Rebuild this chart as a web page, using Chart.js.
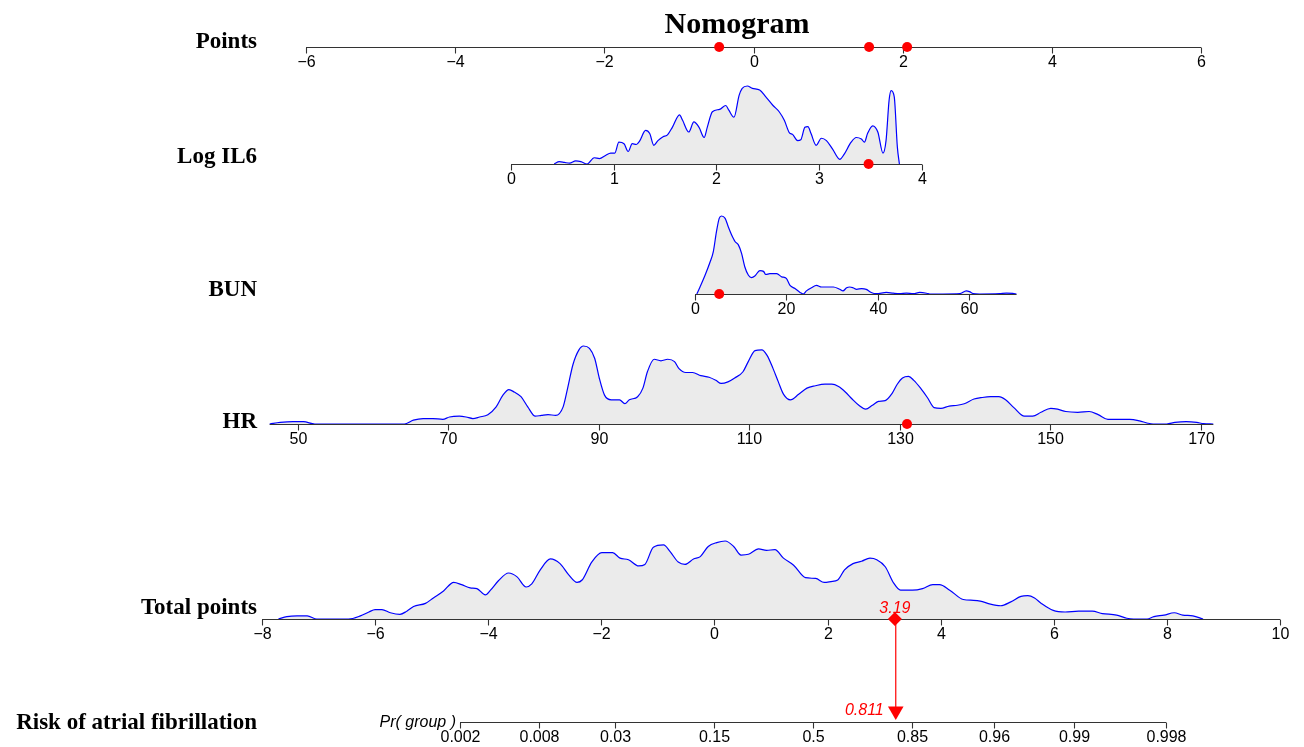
<!DOCTYPE html>
<html>
<head>
<meta charset="utf-8">
<script src="https://cdn.jsdelivr.net/npm/chart.js@4.4.1/dist/chart.umd.min.js"></script>
<style>
  body { margin: 0; background: #fff; }
  #wrap { position: relative; width: 1304px; height: 747px; }
</style>
</head>
<body>
<div id="wrap"><canvas id="nomo"></canvas></div>
<script>
// ---- data ----
const ptsTicks = [-6, -4, -2, 0, 2, 4, 6];
const il6Ticks = [0, 1, 2, 3, 4];
const bunTicks = [0, 20, 40, 60];
const hrTicks = [50, 70, 90, 110, 130, 150, 170];
const totTicks = [-8, -6, -4, -2, 0, 2, 4, 6, 8, 10];
const riskTicks = [0.002, 0.008, 0.03, 0.15, 0.5, 0.85, 0.96, 0.99, 0.998];

// density curves (x value, relative density)
const il6X = [0.42,0.47,0.52,0.57,0.63,0.68,0.74,0.81,0.86,0.92,0.97,1.01,1.05,1.10,1.14,1.18,1.22,1.25,1.31,1.35,1.39,1.43,1.48,1.52,1.57,1.64,1.67,1.73,1.78,1.83,1.88,1.91,1.96,2.03,2.09,2.12,2.17,2.22,2.25,2.30,2.35,2.42,2.48,2.55,2.61,2.66,2.71,2.74,2.79,2.82,2.86,2.89,2.92,2.97,3.02,3.07,3.13,3.20,3.24,3.31,3.36,3.41,3.44,3.47,3.52,3.57,3.62,3.65,3.68,3.70,3.73,3.76,3.78];
const il6D = [0,0.03,0.02,0.01,0.04,0.03,0,0.08,0.07,0.11,0.14,0.14,0.28,0.26,0.16,0.26,0.25,0.29,0.43,0.39,0.24,0.30,0.35,0.37,0.47,0.63,0.56,0.41,0.54,0.47,0.34,0.47,0.67,0.70,0.75,0.69,0.60,0.88,0.97,1.00,0.97,0.95,0.86,0.75,0.67,0.56,0.40,0.38,0.30,0.31,0.47,0.48,0.39,0.24,0.33,0.30,0.19,0.06,0.12,0.28,0.34,0.32,0.28,0.39,0.49,0.41,0.14,0.30,0.82,0.94,0.86,0.22,0];

const bunX = [0.4,1.1,2.2,3.3,4.0,4.7,5.3,5.8,6.6,7.3,8.0,8.8,9.5,10.2,10.9,11.7,12.4,13.1,14.2,15.0,15.5,16.4,17.1,17.9,19.0,20.0,20.8,21.9,23.0,23.7,24.4,25.5,26.6,27.7,28.8,30.3,31.7,32.4,33.2,33.9,34.6,35.4,36.5,37.5,38.6,39.7,41.9,43.4,44.8,46.3,47.8,49.2,50.7,51.4,54.3,58.0,59.4,60.1,60.9,62.3,66.7,68.2,69.6,70.4];
const bunD = [0,0.09,0.24,0.41,0.54,0.80,0.97,1.00,0.97,0.86,0.76,0.67,0.63,0.52,0.35,0.24,0.21,0.23,0.30,0.29,0.25,0.26,0.26,0.26,0.22,0.20,0.11,0.07,0.02,0,0.04,0.08,0.11,0.09,0.09,0.09,0.06,0.04,0.08,0.09,0.08,0.06,0.07,0.06,0.02,0.004,0.02,0.01,0.004,0.01,0.004,0.02,0.01,0,0,0.004,0.04,0.03,0.004,0,0.004,0.01,0.009,0];

const hrX = [46.3,47.7,49.4,50.8,52.3,64.2,65.4,66.7,68.0,69.3,70.2,71.5,72.4,73.3,74.2,75.3,76.4,77.3,78.1,78.8,79.7,80.6,81.6,82.4,83.3,84.3,85.3,85.9,86.6,87.4,88.0,88.8,89.5,90.1,90.8,91.7,92.8,93.5,94.1,95.2,95.9,96.5,97.4,98.3,99.2,100.1,100.7,101.6,102.5,103.6,104.7,105.6,106.3,107.2,108.1,109.2,109.9,110.8,111.7,112.4,113.2,113.9,114.6,115.5,116.6,117.7,118.8,120.1,121.0,121.9,122.8,123.7,124.6,125.5,126.4,127.2,128.1,129.0,129.7,130.4,131.2,131.9,132.8,133.7,134.6,135.5,136.6,137.7,138.6,139.9,141.0,142.1,143.2,144.1,145.2,146.6,147.7,148.8,150.1,151.0,152.1,153.7,155.2,156.4,157.7,158.8,160.6,161.9,163.0,163.7,165.5,166.6,168.1,169.5,170.4,171.7];
const hrD = [0,0.02,0.03,0.03,0,0,0.05,0.07,0.07,0.06,0.09,0.10,0.09,0.07,0.09,0.12,0.22,0.37,0.44,0.41,0.35,0.22,0.10,0.11,0.12,0.11,0.22,0.46,0.76,0.95,1.00,0.97,0.84,0.59,0.37,0.31,0.31,0.26,0.31,0.35,0.46,0.67,0.83,0.81,0.83,0.80,0.71,0.66,0.66,0.62,0.60,0.56,0.52,0.54,0.59,0.67,0.80,0.94,0.95,0.88,0.71,0.54,0.38,0.31,0.38,0.46,0.49,0.51,0.51,0.48,0.41,0.32,0.24,0.19,0.24,0.29,0.30,0.39,0.51,0.59,0.61,0.56,0.46,0.34,0.21,0.20,0.23,0.24,0.26,0.32,0.34,0.35,0.35,0.31,0.21,0.10,0.10,0.15,0.20,0.19,0.16,0.15,0.16,0.12,0.06,0.06,0.06,0.04,0.01,0,0,0.02,0.03,0.02,0.004,0];

const totX = [-7.71,-7.56,-7.38,-7.20,-7.03,-6.47,-6.26,-6.11,-6.00,-5.88,-5.73,-5.56,-5.44,-5.32,-5.11,-4.97,-4.79,-4.61,-4.47,-4.32,-4.20,-4.05,-3.96,-3.82,-3.64,-3.49,-3.33,-3.23,-3.08,-2.90,-2.73,-2.58,-2.43,-2.34,-2.17,-1.99,-1.80,-1.67,-1.52,-1.34,-1.23,-1.08,-0.90,-0.78,-0.64,-0.52,-0.37,-0.25,-0.11,0.04,0.19,0.34,0.47,0.60,0.78,0.92,1.07,1.22,1.40,1.61,1.79,1.94,2.06,2.18,2.30,2.45,2.60,2.75,2.87,3.02,3.17,3.29,3.50,3.68,3.86,3.98,4.16,4.40,4.58,4.70,4.88,5.06,5.24,5.42,5.54,5.66,5.78,5.99,6.20,6.44,6.68,6.86,7.11,7.29,7.41,7.65,7.77,7.95,8.13,8.28,8.46,8.64];
const totD = [0,0.03,0.04,0.04,0,0,0.04,0.09,0.12,0.12,0.08,0.06,0.10,0.16,0.20,0.27,0.36,0.47,0.44,0.40,0.39,0.31,0.37,0.49,0.59,0.54,0.41,0.45,0.63,0.77,0.71,0.57,0.47,0.50,0.73,0.85,0.85,0.78,0.76,0.68,0.70,0.92,0.95,0.86,0.73,0.70,0.77,0.80,0.93,0.98,1.00,0.93,0.82,0.83,0.90,0.88,0.89,0.78,0.69,0.53,0.52,0.47,0.48,0.50,0.63,0.71,0.74,0.78,0.76,0.67,0.46,0.37,0.37,0.39,0.44,0.44,0.37,0.25,0.24,0.23,0.19,0.17,0.22,0.29,0.30,0.27,0.20,0.11,0.09,0.10,0.10,0.07,0.05,0.01,0,0,0.03,0.05,0.08,0.05,0.04,0];

// the patient shown in red
const ptsDots = [-0.46, 1.55, 2.06];
const il6Dot = 3.48;
const bunDot = 5.3;
const hrDot = 131;
const totalScore = 3.19;
const riskValue = 0.811;

// ---- layout ----
const W = 1304, H = 747;
const DENS_PX = 78;   // pixel height of density 1.0
const TRI_LIFT = 11;  // triangle centre above the risk axis, px
const logit = p => Math.log(p / (1 - p));
const minus = v => String(v).replace('-', '\u2212');

// value a at pixel pa, b at pb, baseline y, axis extent, ticks
const rows = {
  pts:  { a: -6, pa: 306, b: 6, pb: 1201, base: 47,  from: -6, to: 6, ticks: ptsTicks },
  il6:  { a: 0, pa: 511, b: 4, pb: 922, base: 164, from: 0, to: 4, ticks: il6Ticks },
  bun:  { a: 0, pa: 695, b: 60, pb: 969, base: 294, from: 0, to: 70.4, ticks: bunTicks },
  hr:   { a: 50, pa: 297.5, b: 170, pb: 1200.5, base: 424, from: 46.3, to: 171.7, ticks: hrTicks },
  tot:  { a: -8, pa: 262, b: 10, pb: 1280, base: 619, from: -8, to: 10, ticks: totTicks },
  risk: { a: logit(0.002), pa: 460, b: logit(0.998), pb: 1166, base: 722,
          from: logit(0.002), to: logit(0.998), ticks: riskTicks, tickPos: logit }
};

const rowLabels = [
  ['Points', 48], ['Log IL6', 163], ['BUN', 296], ['HR', 428],
  ['Total points', 614], ['Risk of atrial fibrillation', 729]
];

const scales = {};
Object.keys(rows).forEach(k => {
  const r = rows[k];
  const kx = (r.pb - r.pa) / (r.b - r.a);
  const xmin = r.a - r.pa / kx;
  scales['x_' + k] = { type: 'linear', axis: 'x', display: false, min: xmin, max: xmin + W / kx };
  scales['y_' + k] = { type: 'linear', axis: 'y', display: false,
    min: -(H - r.base) / DENS_PX, max: r.base / DENS_PX };
});

const pairs = (xs, ys) => xs.map((x, i) => ({ x: x, y: ys[i] }));

function density(key, xs, ys) {
  return {
    type: 'line', rowKey: key, data: pairs(xs, ys),
    xAxisID: 'x_' + key, yAxisID: 'y_' + key,
    borderColor: '#0000ff', borderWidth: 1.2, backgroundColor: '#ebebeb',
    fill: 'origin', pointRadius: 0, cubicInterpolationMode: 'monotone', order: 2
  };
}

function marker(key, xs, extra) {
  return Object.assign({
    type: 'line', showLine: false, data: xs.map(x => ({ x: x, y: 0 })),
    xAxisID: 'x_' + key, yAxisID: 'y_' + key,
    pointRadius: 5, pointBackgroundColor: '#ff0000', pointBorderWidth: 0, order: 0
  }, extra || {});
}

const FONT_TICK = '16px "Liberation Sans", Arial, sans-serif';

function drawAxis(chart, key) {
  const r = rows[key];
  const xs = chart.scales['x_' + key], ys = chart.scales['y_' + key];
  const ctx = chart.ctx;
  const y = Math.round(ys.getPixelForValue(0)) + 0.5;
  ctx.save();
  ctx.strokeStyle = '#333';
  ctx.lineWidth = 1.1;
  ctx.beginPath();
  ctx.moveTo(xs.getPixelForValue(r.from), y);
  ctx.lineTo(xs.getPixelForValue(r.to), y);
  ctx.stroke();
  ctx.fillStyle = '#000';
  ctx.font = FONT_TICK;
  ctx.textAlign = 'center';
  ctx.textBaseline = 'alphabetic';
  r.ticks.forEach(t => {
    const x = Math.round(xs.getPixelForValue(r.tickPos ? r.tickPos(t) : t)) + 0.5;
    ctx.beginPath();
    ctx.moveTo(x, y);
    ctx.lineTo(x, y + 6);
    ctx.stroke();
    ctx.fillText(minus(t), x, y + 19);
  });
  ctx.restore();
}

const nomoPlugin = {
  id: 'nomo',
  beforeDatasetsDraw(chart) {
    const ctx = chart.ctx;
    drawAxis(chart, 'pts');
    drawAxis(chart, 'risk');
    // connector from total points to risk
    const x = chart.scales.x_risk.getPixelForValue(logit(riskValue));
    ctx.save();
    ctx.strokeStyle = '#ff0000';
    ctx.lineWidth = 1.2;
    ctx.beginPath();
    ctx.moveTo(x, chart.scales.y_tot.getPixelForValue(0));
    ctx.lineTo(x, chart.scales.y_risk.getPixelForValue(0) - TRI_LIFT);
    ctx.stroke();
    ctx.restore();

    // row names and title
    ctx.save();
    ctx.fillStyle = '#000';
    ctx.font = 'bold 23px "Liberation Serif", "Times New Roman", serif';
    ctx.textAlign = 'right';
    ctx.textBaseline = 'alphabetic';
    rowLabels.forEach(l => ctx.fillText(l[0], 257, l[1]));
    ctx.font = 'bold 30px "Liberation Serif", "Times New Roman", serif';
    ctx.textAlign = 'center';
    ctx.fillText('Nomogram', 737, 33);
    ctx.font = 'italic ' + FONT_TICK;
    ctx.textAlign = 'right';
    ctx.fillText('Pr( group )', chart.scales.x_risk.getPixelForValue(rows.risk.from) - 4, 727);
    ctx.restore();
  },
  afterDatasetDraw(chart, args) {
    const ds = chart.data.datasets[args.index];
    if (ds.type === 'line' && ds.fill && ds.rowKey) drawAxis(chart, ds.rowKey);
  },
  afterDatasetsDraw(chart) {
    const ctx = chart.ctx;
    ctx.save();
    ctx.fillStyle = '#ff0000';
    ctx.font = 'italic ' + FONT_TICK;
    ctx.textBaseline = 'alphabetic';
    ctx.textAlign = 'center';
    ctx.fillText(totalScore.toFixed(2), chart.scales.x_tot.getPixelForValue(totalScore),
      chart.scales.y_tot.getPixelForValue(0) - 6);
    ctx.textAlign = 'right';
    ctx.fillText(String(riskValue), chart.scales.x_risk.getPixelForValue(logit(riskValue)) - 12,
      chart.scales.y_risk.getPixelForValue(0) - 7);
    ctx.restore();
  }
};

new Chart(document.getElementById('nomo'), {
  type: 'line',
  data: {
    datasets: [
      density('il6', il6X, il6D),
      density('bun', bunX, bunD),
      density('hr', hrX, hrD),
      density('tot', totX, totD),
      marker('pts', ptsDots),
      marker('il6', [il6Dot]),
      marker('bun', [bunDot]),
      marker('hr', [hrDot]),
      marker('tot', [totalScore], { pointStyle: 'rectRot', pointRadius: 7 }),
      Object.assign(marker('risk', [logit(riskValue)], { pointStyle: 'triangle', pointRadius: 9, rotation: 180 }),
        { data: [{ x: logit(riskValue), y: TRI_LIFT / DENS_PX }] })
    ]
  },
  options: {
    responsive: true,
    maintainAspectRatio: false,
    devicePixelRatio: 1,
    animation: false,
    events: [],
    layout: { padding: 0, autoPadding: false },
    scales: scales,
    plugins: {
      legend: { display: false },
      tooltip: { enabled: false },
      title: { display: false }
    }
  },
  plugins: [nomoPlugin]
});
</script>
</body>
</html>
